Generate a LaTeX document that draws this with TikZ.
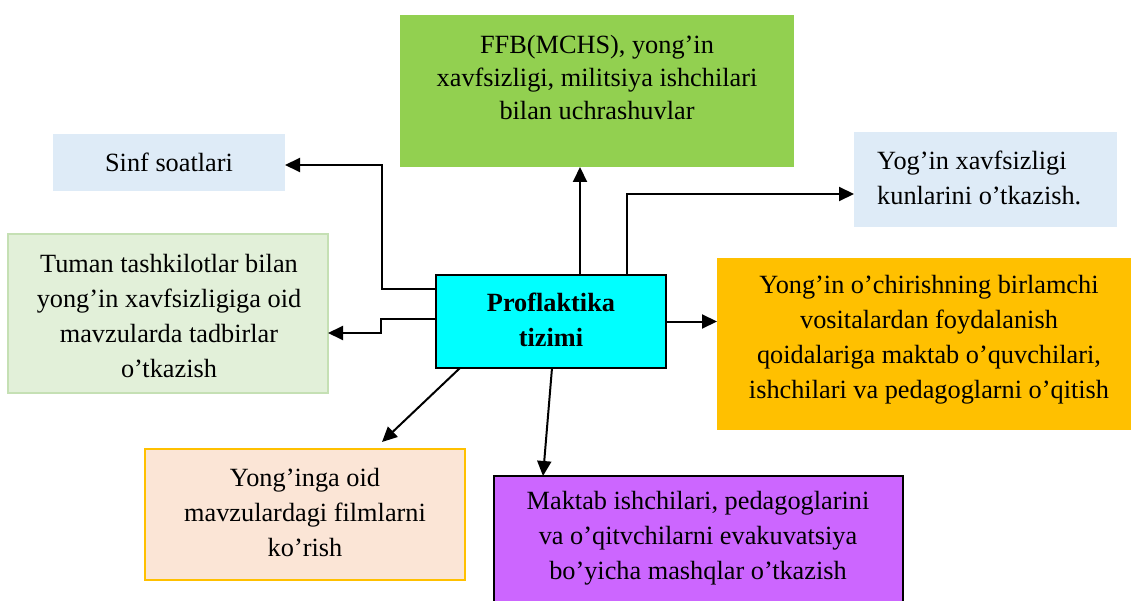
\documentclass[tikz,border=0pt]{standalone}
\usepackage{fontspec}
\setmainfont{Liberation Serif}
\usetikzlibrary{arrows.meta,calc}
\definecolor{lblue}{HTML}{DEEBF7}
\definecolor{ffbgreen}{HTML}{92D050}
\definecolor{lgreen}{HTML}{E2F0D9}
\definecolor{lgreenborder}{HTML}{C5E0B4}
\definecolor{cencyan}{HTML}{00FFFF}
\definecolor{orangebox}{HTML}{FFC000}
\definecolor{peach}{HTML}{FBE5D6}
\definecolor{purplebox}{HTML}{CC66FF}
\begin{document}
\begin{tikzpicture}[x=1pt,y=-1pt,
  box/.style={rectangle, draw=none, inner sep=0pt, outer sep=0pt},
  txt/.style={font=\fontsize{26.3}{35}\selectfont, align=center, inner sep=0pt},
  arr/.style={line width=2pt, -{Triangle[length=15pt,width=14pt]}}]
\useasboundingbox (0,0) rectangle (1131,601);
\clip (0,0) rectangle (1131,601);
\fill[white] (0,0) rectangle (1131,601);

% boxes
\node[box, fill=lblue, minimum width=232pt, minimum height=57pt] (sinf) at (169,162.5) {};
\node[box, fill=ffbgreen, minimum width=394pt, minimum height=152pt] (ffb) at (597,91) {};
\node[box, fill=lblue, minimum width=263pt, minimum height=95pt] (yog) at (985.5,179.5) {};
\node[box, fill=lgreen, draw=lgreenborder, line width=1.5pt, minimum width=320pt, minimum height=159pt] (tum) at (168,313.5) {};
\node[box, fill=cencyan, draw=black, line width=2pt, minimum width=230pt, minimum height=93pt] (cen) at (551,321.5) {};
\node[box, fill=orangebox, minimum width=418pt, minimum height=172pt] (ora) at (926,344) {};
\node[box, fill=peach, draw=orangebox, line width=2pt, minimum width=320pt, minimum height=131pt] (yon) at (305,514.5) {};
\node[box, fill=purplebox, draw=black, line width=2pt, minimum width=409pt, minimum height=144pt] (pur) at (698.5,548) {};

% texts
\node[txt] (tsinf) at (169,162) {Sinf soatlari};
\node[txt, font=\fontsize{26.3}{33}\selectfont] (tffb) at (597,78) {FFB(MCHS), yong’in\\xavfsizligi, militsiya ishchilari\\bilan uchrashuvlar};
\node[txt, anchor=west, align=left] (tyog) at (877,178) {Yog’in xavfsizligi\\kunlarini o’tkazish.};
\node[txt] (ttum) at (169,316) {Tuman tashkilotlar bilan\\yong’in xavfsizligiga oid\\mavzularda tadbirlar\\o’tkazish};
\node[txt, font=\fontsize{26.3}{35}\selectfont\bfseries] (tcen) at (551,320) {Proflaktika\\tizimi};
\node[txt] (tora) at (929,340) {Yong’in o’chirishning birlamchi\\vositalardan foydalanish\\qoidalariga maktab o’quvchilari,\\ishchilari va pedagoglarni o’qitish};
\node[txt] (tyon) at (305,512) {Yong’inga oid\\mavzulardagi filmlarni\\ko’rish};
\node[txt] (tpur) at (698,538) {Maktab ishchilari, pedagoglarini\\va o’qitvchilarni evakuvatsiya\\bo’yicha mashqlar o’tkazish};

% connectors
\draw[arr] ([yshift=-14pt]cen.north west) -- ++(-54,0) |- ([yshift=-2.5pt]sinf.east);
\draw[arr] ([yshift=-44pt]cen.north west) -- ++(-55,0) |- ([yshift=-19.5pt]tum.east);
\draw[arr] ([xshift=29pt]cen.north) -- ([xshift=29pt]cen.north |- ffb.south);
\draw[arr] ([xshift=76pt]cen.north) |- ([yshift=-14.5pt]yog.west);
\draw[arr] (cen.east) -- (cen.east -| ora.west);
\draw[arr] ([xshift=24pt]cen.south west) -- ([xshift=77pt,yshift=7pt]yon.north);
\draw[arr] ([xshift=1pt]cen.south) -- ([xshift=-155.5pt]pur.north);
\end{tikzpicture}
\end{document}
